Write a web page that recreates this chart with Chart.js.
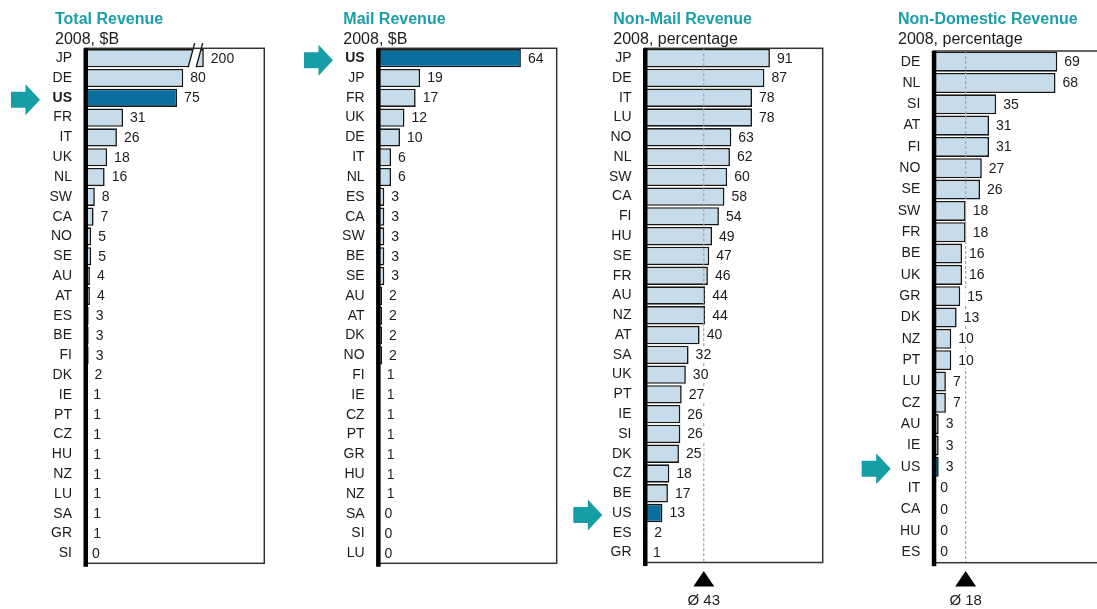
<!DOCTYPE html>
<html>
<head>
<meta charset="utf-8">
<script src="https://cdn.jsdelivr.net/npm/chart.js@4.4.1/dist/chart.umd.min.js"></script>
<style>
  html, body { margin: 0; padding: 0; background: #fff; overflow: hidden; }
  body { width: 1097px; height: 609px; position: relative; }
  canvas { position: absolute; top: 0; }
</style>
</head>
<body>
<canvas id="total" width="290" height="609" style="left:0px"></canvas>
<canvas id="mail" width="280" height="609" style="left:290px"></canvas>
<canvas id="nonMail" width="270" height="609" style="left:570px"></canvas>
<canvas id="nonDomestic" width="300" height="609" style="left:840px"></canvas>
<script>
// 2008 postal figures by country
const totalCountries = ['JP', 'DE', 'US', 'FR', 'IT', 'UK', 'NL', 'SW', 'CA', 'NO', 'SE', 'AU', 'AT',
  'ES', 'BE', 'FI', 'DK', 'IE', 'PT', 'CZ', 'HU', 'NZ', 'LU', 'SA', 'GR', 'SI'];
const totalRevenue = [200, 80, 75, 31, 26, 18, 16, 8, 7, 5, 5, 4, 4, 3, 3, 3, 2, 1, 1, 1, 1, 1, 1, 1, 1, 0];

const mailCountries = ['US', 'JP', 'FR', 'UK', 'DE', 'IT', 'NL', 'ES', 'CA', 'SW', 'BE', 'SE', 'AU',
  'AT', 'DK', 'NO', 'FI', 'IE', 'CZ', 'PT', 'GR', 'HU', 'NZ', 'SA', 'SI', 'LU'];
const mailRevenue = [64, 19, 17, 12, 10, 6, 6, 3, 3, 3, 3, 3, 2, 2, 2, 2, 1, 1, 1, 1, 1, 1, 1, 0, 0, 0];

const nonMailCountries = ['JP', 'DE', 'IT', 'LU', 'NO', 'NL', 'SW', 'CA', 'FI', 'HU', 'SE', 'FR', 'AU',
  'NZ', 'AT', 'SA', 'UK', 'PT', 'IE', 'SI', 'DK', 'CZ', 'BE', 'US', 'ES', 'GR'];
const nonMailShare = [91, 87, 78, 78, 63, 62, 60, 58, 54, 49, 47, 46, 44, 44, 40, 32, 30, 27, 26, 26, 25, 18, 17, 13, 2, 1];
const nonMailAverage = 43;

const nonDomCountries = ['DE', 'NL', 'SI', 'AT', 'FI', 'NO', 'SE', 'SW', 'FR', 'BE', 'UK', 'GR', 'DK',
  'NZ', 'PT', 'LU', 'CZ', 'AU', 'IE', 'US', 'IT', 'CA', 'HU', 'ES'];
const nonDomShare = [69, 68, 35, 31, 31, 27, 26, 18, 18, 16, 16, 15, 13, 10, 10, 7, 7, 3, 3, 3, 0, 0, 0, 0];
const nonDomAverage = 18;

const FONT = '"Liberation Sans", Arial, Helvetica, sans-serif';
const LIGHT = '#c7dcea';
const DARK = '#0a6f9c';
const EDGE = '#161616';
const TEAL = '#1b9ea8';
const ARROW = '#159ea6';
const INK = '#1c1c1c';

Chart.defaults.font.family = FONT;
Chart.defaults.color = INK;

// linear scale that squeezes values past `breakAt` so an outlier stays inside the box
class BrokenLinearScale extends Chart.LinearScale {
  getPixelForValue(value) {
    const b = this.options.breakAt;
    if (b != null && value > b) value = b + (value - b) * this.options.breakSqueeze;
    return super.getPixelForValue(value);
  }
}
BrokenLinearScale.id = 'brokenLinear';
BrokenLinearScale.defaults = Chart.LinearScale.defaults;
Chart.register(BrokenLinearScale);

const panelDeco = {
  id: 'panelDeco',
  afterDatasetsDraw(chart, args, opts) {
    const { ctx, chartArea: a, scales: { x, y } } = chart;
    const labels = chart.data.labels;
    const values = chart.data.datasets[0].data;
    const bars = chart.getDatasetMeta(0).data;
    ctx.save();

    // dashed average line + marker underneath
    if (opts.average != null) {
      const ax = x.getPixelForValue(opts.average);
      ctx.strokeStyle = '#a3a3a3';
      ctx.lineWidth = 1.2;
      ctx.setLineDash([3, 2]);
      ctx.beginPath();
      ctx.moveTo(ax, a.top);
      ctx.lineTo(ax, a.bottom);
      ctx.stroke();
      ctx.setLineDash([]);
      ctx.fillStyle = '#000';
      ctx.beginPath();
      ctx.moveTo(ax, 571);
      ctx.lineTo(ax + 10.5, 586.5);
      ctx.lineTo(ax - 10.5, 586.5);
      ctx.closePath();
      ctx.fill();
      ctx.fillStyle = INK;
      ctx.font = '15px ' + FONT;
      ctx.textAlign = 'center';
      ctx.textBaseline = 'middle';
      ctx.fillText('Ø ' + opts.average, ax, 601);
    }

    // axis break on the first bar
    if (opts.breakAt != null) {
      const bar = bars[0];
      const bx = x.getPixelForValue(opts.breakAt);
      const top = bar.y - bar.height / 2, bot = bar.y + bar.height / 2;
      ctx.fillStyle = '#fff';
      ctx.beginPath();
      ctx.moveTo(bx, bot + 1);
      ctx.lineTo(bx + 5, top - 1);
      ctx.lineTo(bx + 13, top - 1);
      ctx.lineTo(bx + 8, bot + 1);
      ctx.closePath();
      ctx.fill();
      ctx.strokeStyle = EDGE;
      ctx.lineWidth = 1.4;
      ctx.beginPath();
      ctx.moveTo(bx, bot);
      ctx.lineTo(bx + 6.5, top - 6);
      ctx.moveTo(bx + 8, bot);
      ctx.lineTo(bx + 14.5, top - 6);
      ctx.stroke();
    }

    // value labels
    ctx.font = '14px ' + FONT;
    ctx.textAlign = 'left';
    ctx.textBaseline = 'middle';
    bars.forEach((bar, i) => {
      const text = String(values[i]);
      const tx = bar.x + 7;
      const w = ctx.measureText(text).width;
      ctx.fillStyle = '#fff';
      ctx.fillRect(tx - 2, bar.y - 8, w + 4, 16);
      ctx.fillStyle = INK;
      ctx.fillText(text, tx, bar.y + 0.5);
    });

    // frame and heavy value axis
    ctx.strokeStyle = '#333';
    ctx.lineWidth = 1.5;
    ctx.strokeRect(a.left, a.top, a.right - a.left, a.bottom - a.top);
    ctx.fillStyle = '#000';
    ctx.fillRect(a.left - 1.5, a.top, 4.5, a.bottom - a.top + 3.5);

    // pointer at the US row
    const cy = y.getPixelForValue(labels.indexOf('US')) + 2;
    const x0 = opts.arrowX;
    ctx.fillStyle = ARROW;
    ctx.beginPath();
    ctx.moveTo(x0, cy - 8);
    ctx.lineTo(x0 + 14.5, cy - 8);
    ctx.lineTo(x0 + 14.5, cy - 15.5);
    ctx.lineTo(x0 + 29, cy);
    ctx.lineTo(x0 + 14.5, cy + 15.5);
    ctx.lineTo(x0 + 14.5, cy + 8);
    ctx.lineTo(x0, cy + 8);
    ctx.closePath();
    ctx.fill();

    // heading
    ctx.textAlign = 'left';
    ctx.textBaseline = 'alphabetic';
    ctx.fillStyle = TEAL;
    ctx.font = 'bold 16px ' + FONT;
    ctx.fillText(opts.title, opts.titleX, 23.5);
    ctx.fillStyle = INK;
    ctx.font = '16px ' + FONT;
    ctx.fillText(opts.subtitle, opts.titleX, 43.5);

    ctx.restore();
  }
};

function panelChart(id, p) {
  const canvas = document.getElementById(id);
  const xScale = { type: 'linear', display: false, min: 0, max: p.max };
  if (p.breakAt != null) {
    xScale.type = 'brokenLinear';
    xScale.breakAt = p.breakAt;
    xScale.breakSqueeze = p.breakSqueeze;
  }
  return new Chart(canvas, {
    type: 'bar',
    data: {
      labels: p.labels,
      datasets: [{
        data: p.values,
        backgroundColor: p.labels.map(l => l === 'US' ? DARK : LIGHT),
        borderColor: EDGE,
        borderWidth: 1.6,
        barPercentage: p.barPct,
        categoryPercentage: 1
      }]
    },
    options: {
      indexAxis: 'y',
      responsive: false,
      animation: false,
      events: [],
      layout: { padding: { top: p.top, bottom: 609 - p.bottom, left: 0, right: canvas.width - p.right } },
      scales: {
        x: xScale,
        y: {
          grid: { display: false, drawTicks: false },
          border: { display: false },
          ticks: {
            autoSkip: false,
            padding: 13,
            color: INK,
            font: c => ({ size: 14, weight: p.boldUS && p.labels[c.index] === 'US' ? 'bold' : 'normal' })
          },
          afterFit(s) { s.width = p.left; }
        }
      },
      plugins: {
        legend: { display: false },
        tooltip: { enabled: false },
        panelDeco: {
          title: p.title, subtitle: p.subtitle, titleX: p.titleX,
          arrowX: p.arrowX, average: p.average, breakAt: p.breakAt
        }
      }
    },
    plugins: [panelDeco]
  });
}

panelChart('total', {
  labels: totalCountries, values: totalRevenue,
  title: 'Total Revenue', subtitle: '2008, $B', titleX: 55, arrowX: 11, boldUS: true,
  left: 85, right: 264.3, top: 48.3, bottom: 563.3, max: 146, barPct: 0.92,
  breakAt: 84, breakSqueeze: 0.11
});

panelChart('mail', {
  labels: mailCountries, values: mailRevenue,
  title: 'Mail Revenue', subtitle: '2008, $B', titleX: 53.3, arrowX: 14, boldUS: true,
  left: 87.6, right: 266.7, top: 48.3, bottom: 563.3, max: 80, barPct: 0.92
});

panelChart('nonMail', {
  labels: nonMailCountries, values: nonMailShare,
  title: 'Non-Mail Revenue', subtitle: '2008, percentage', titleX: 43.3, arrowX: 3.3,
  left: 74.5, right: 252.7, top: 48.3, bottom: 562.5, max: 129.3, barPct: 0.93,
  average: nonMailAverage
});

panelChart('nonDomestic', {
  labels: nonDomCountries, values: nonDomShare,
  title: 'Non-Domestic Revenue', subtitle: '2008, percentage', titleX: 58, arrowX: 21.7,
  left: 93.3, right: 273, top: 51, bottom: 562.7, max: 100, barPct: 0.94,
  average: nonDomAverage
});
</script>
</body>
</html>
